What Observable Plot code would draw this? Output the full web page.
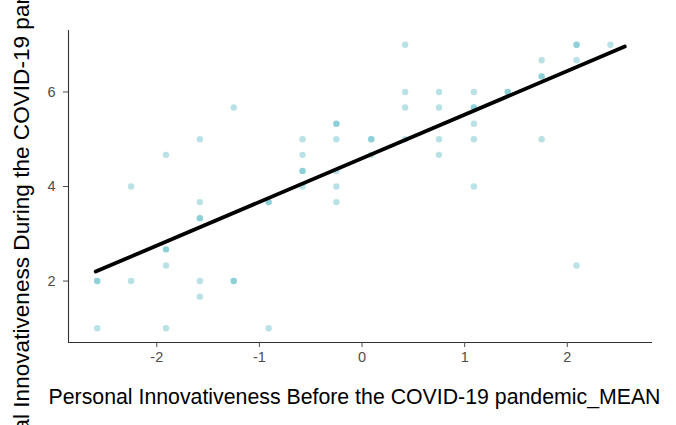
<!DOCTYPE html>
<html>
<head>
<meta charset="utf-8">
<script src="https://cdn.jsdelivr.net/npm/d3@7"></script>
<script src="https://cdn.jsdelivr.net/npm/@observablehq/plot@0.6"></script>
<style>
  html, body { margin: 0; padding: 0; background: #fff; }
  #chart svg { overflow: hidden; display: block; }
</style>
</head>
<body>
<div id="chart"></div>
<script>
// Observations (overlapping respondents listed twice)
const xValues = [
  -2.58, -2.58, -2.58,
  -2.25, -2.25,
  -1.91, -1.91, -1.91, -1.91, -1.91,
  -1.58, -1.58, -1.58, -1.58, -1.58, -1.58,
  -1.25, -1.25, -1.25,
  -0.91, -0.91, -0.91,
  -0.58, -0.58, -0.58, -0.58, -0.58,
  -0.25, -0.25, -0.25, -0.25, -0.25, -0.25,
  0.09, 0.09, 0.09,
  0.42, 0.42, 0.42, 0.42,
  0.75, 0.75, 0.75, 0.75,
  1.09, 1.09, 1.09, 1.09, 1.09, 1.09,
  1.42, 1.42,
  1.75, 1.75, 1.75, 1.75,
  2.09, 2.09, 2.09, 2.09,
  2.42
];
const yValues = [
  2, 2, 1,
  4, 2,
  4.67, 2.67, 2.67, 2.33, 1,
  5, 3.67, 3.33, 3.33, 2, 1.67,
  5.67, 2, 2,
  3.67, 3.67, 1,
  5, 4.67, 4.33, 4.33, 4,
  5.33, 5.33, 5, 4.33, 4, 3.67,
  5, 5, 4.67,
  7, 6, 5.67, 5,
  6, 5.67, 5, 4.67,
  6, 5.67, 5.67, 5.33, 5, 4,
  6, 6,
  6.67, 6.33, 6.33, 5,
  7, 7, 6.67, 2.33,
  7
];
// Fitted regression line end points
const fitX = [-2.595, 2.56];
const fitY = [2.20, 6.96];
// Ticks and labels
const xTicks = [-2, -1, 0, 1, 2];
const yTicks = [2, 4, 6];
const xLabel = "Personal Innovativeness Before the COVID-19 pandemic_MEAN";
const yLabel = "Personal Innovativeness During the COVID-19 pandemic_MEAN";

const points = xValues.map((x, i) => ({x, y: yValues[i]}));
const fit = fitX.map((x, i) => ({x, y: fitY[i]}));
const xDomain = [-2.86, 2.83];
const yDomain = [0.7, 7.3];

const chart = Plot.plot({
  width: 676,
  height: 425,
  marginLeft: 68,
  marginRight: 24,
  marginTop: 30,
  marginBottom: 83,
  style: {fontFamily: "'Liberation Sans', Arial, sans-serif", background: "#fff", overflow: "hidden"},
  x: {domain: xDomain},
  y: {domain: yDomain},
  marks: [
    Plot.dot(points, {x: "x", y: "y", r: 3.2, fill: "#48b3c0", fillOpacity: 0.38, stroke: "none"}),
    Plot.line(fit, {x: "x", y: "y", stroke: "#000", strokeWidth: 3.8}),
    Plot.ruleX([xDomain[0]], {stroke: "#333", strokeWidth: 1.1}),
    Plot.ruleY([yDomain[0]], {stroke: "#333", strokeWidth: 1.1}),
    Plot.axisX({ticks: xTicks, tickFormat: d => String(d), tickSize: 5, tickPadding: 4, fontSize: 14.5, color: "#4d4d4d",
      label: xLabel, labelAnchor: "center", labelArrow: "none", labelOffset: 61}),
    Plot.axisY({ticks: yTicks, tickFormat: d => String(d), tickSize: 5, tickPadding: 8, fontSize: 14.5, color: "#4d4d4d",
      label: yLabel, labelAnchor: "center", labelArrow: "none", labelOffset: 56})
  ]
});
document.getElementById("chart").appendChild(chart);
// axis titles in black, larger
chart.querySelectorAll("[aria-label='x-axis label'] text").forEach(t => {
  t.style.fontSize = "21.3px";
  t.setAttribute("fill", "#000");
  t.setAttribute("dx", "-6");
});
chart.querySelectorAll("[aria-label='y-axis label'] text").forEach(t => {
  t.style.fontSize = "22.6px";
  t.setAttribute("fill", "#000");
  t.setAttribute("dx", "8");
});
</script>
</body>
</html>
